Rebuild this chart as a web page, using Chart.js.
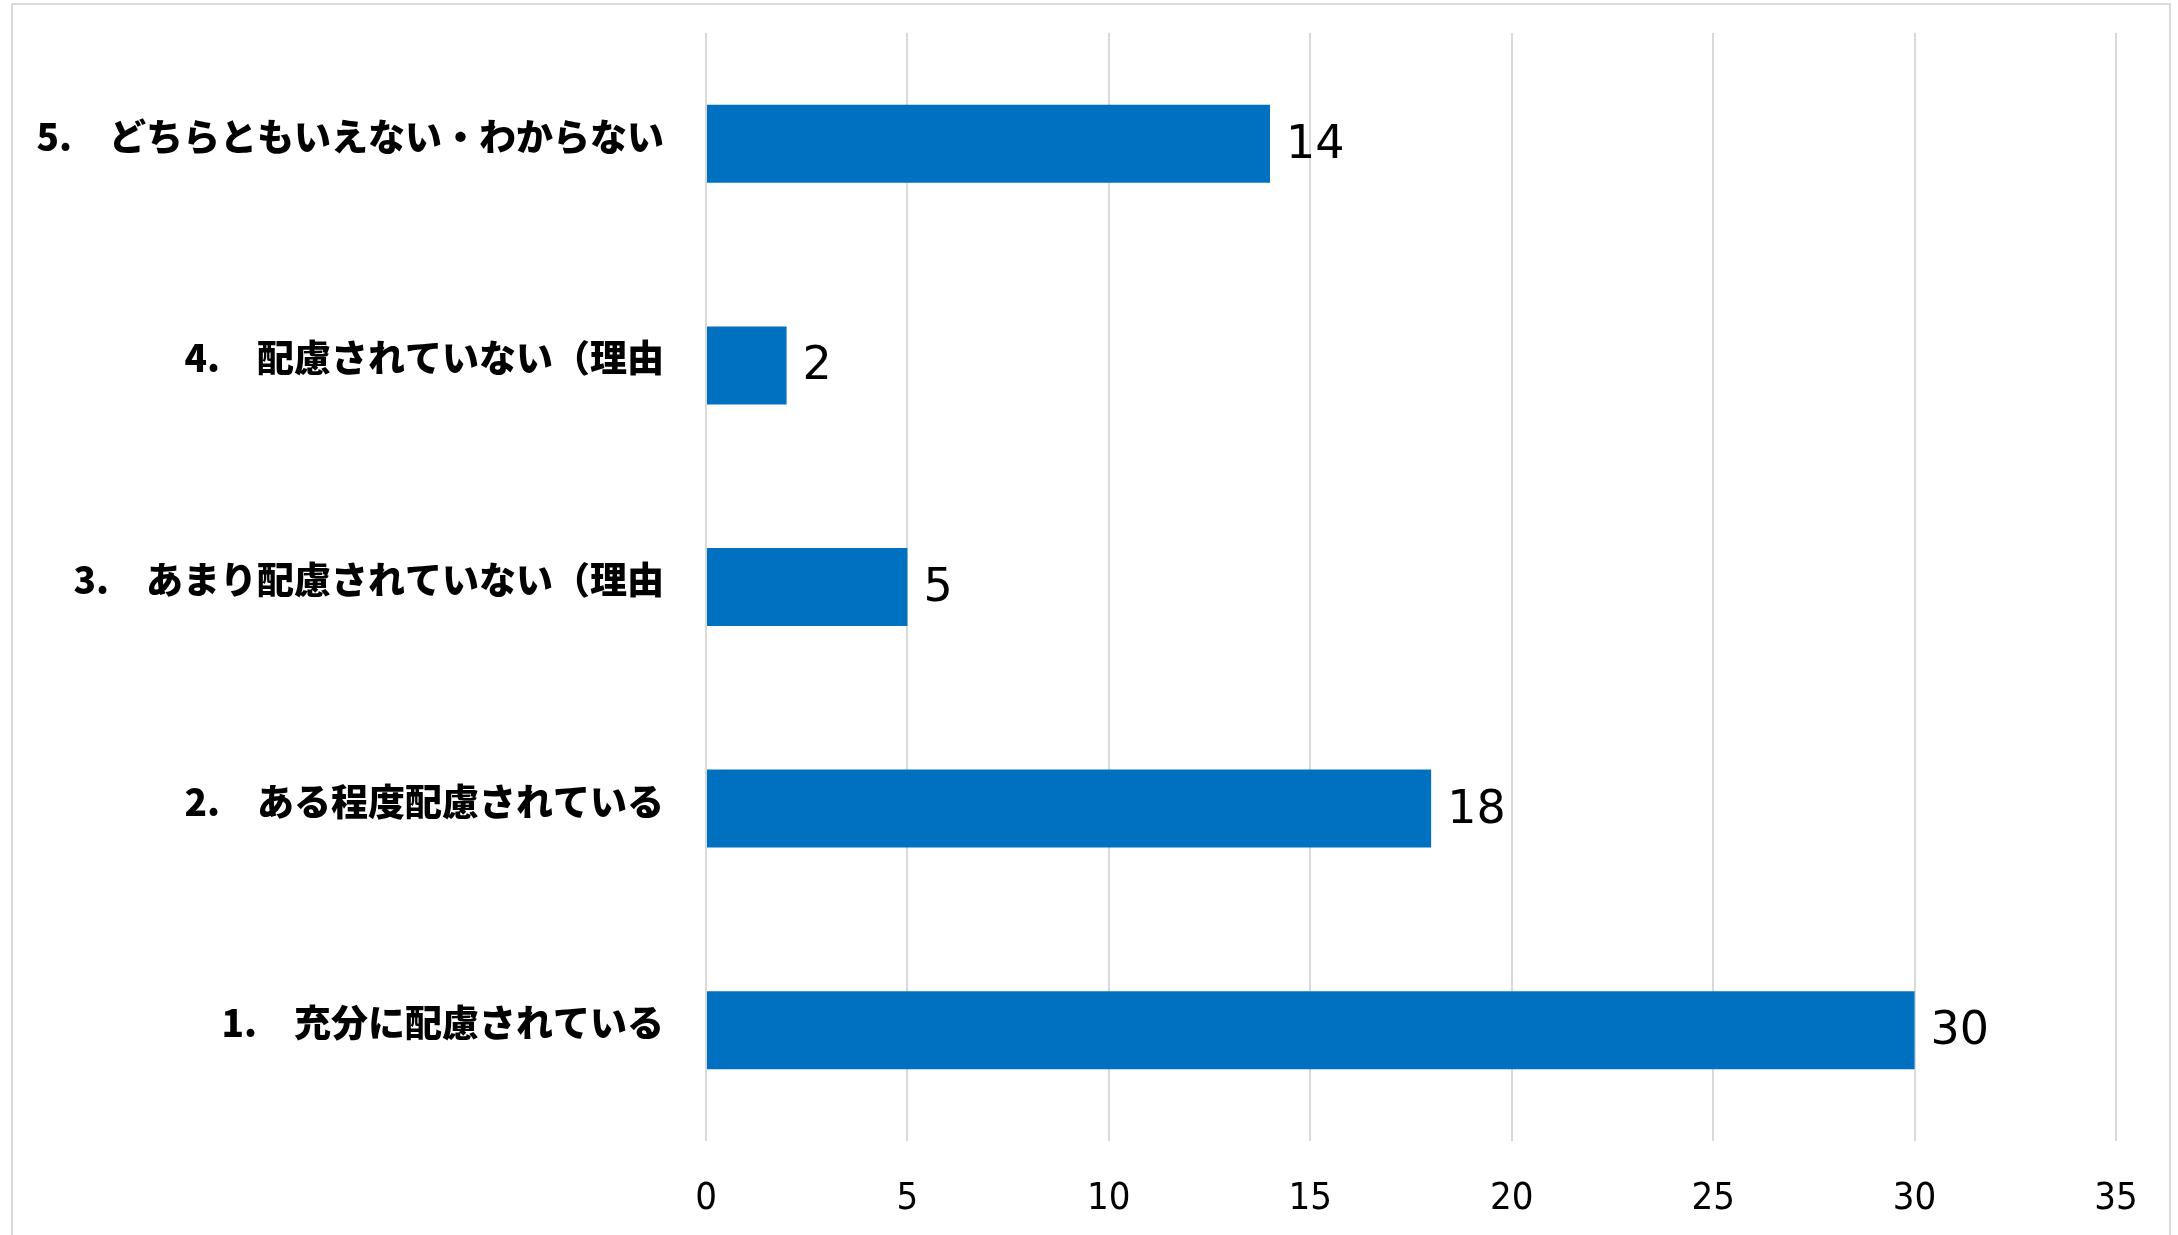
<!DOCTYPE html>
<html lang="ja">
<head>
<meta charset="utf-8">
<script src="https://cdn.jsdelivr.net/npm/chart.js@4"></script>
<style>
  body { margin: 0; background: #fff; }
  #wrap { position: relative; width: 2178px; height: 1235px; }
  #waku { position: absolute; left: 11px; top: 3px; width: 2156px; height: 1240px;
          border: 2px solid #d9d9d9; pointer-events: none; }
</style>
</head>
<body>
<div id="wrap">
  <canvas id="grafico" width="2178" height="1235"></canvas>
  <div id="waku"></div>
</div>
<script>
// === Dados ===
const categorias = [
  "1.　充分に配慮されている",
  "2.　ある程度配慮されている",
  "3.　あまり配慮されていない（理由",
  "4.　配慮されていない（理由",
  "5.　どちらともいえない・わからない"
];
const valores = [30, 18, 5, 2, 14];
const ticksX = [0, 5, 10, 15, 20, 25, 30, 35];

// rótulos de valor no fim das barras
const rotulos = {
  id: "rotulos",
  afterDatasetsDraw(chart) {
    const ctx = chart.ctx;
    const meta = chart.getDatasetMeta(0);
    ctx.save();
    ctx.font = "46px 'DejaVu Sans'";
    ctx.fillStyle = "#000";
    ctx.textAlign = "left";
    ctx.textBaseline = "middle";
    meta.data.forEach((bar, i) => {
      ctx.fillText(String(valores[i]), bar.x + 16, bar.y + 2);
    });
    ctx.restore();
  }
};

new Chart(document.getElementById("grafico"), {
  type: "bar",
  data: {
    labels: categorias,
    datasets: [{
      data: valores,
      backgroundColor: "#0070C0",
      borderWidth: 0,
      categoryPercentage: 0.7,
      barPercentage: 0.503
    }]
  },
  options: {
    indexAxis: "y",
    responsive: false,
    animation: false,
    devicePixelRatio: 1,
    layout: { padding: { top: 33, right: 62, left: 0, bottom: 0 } },
    plugins: { legend: { display: false }, tooltip: { enabled: false } },
    scales: {
      x: {
        min: 0,
        max: 35,
        afterBuildTicks: s => { s.ticks = ticksX.map(v => ({ value: v })); },
        afterFit: s => { s.height = 94; },
        grid: { color: "#d9d9d9", lineWidth: 2, drawTicks: false },
        border: { display: false },
        ticks: {
          padding: 35,
          color: "#000",
          font: { family: "'DejaVu Sans Condensed', 'DejaVu Sans'", size: 38 }
        }
      },
      y: {
        reverse: true,
        grid: { display: false, drawTicks: false },
        border: { display: false },
        afterFit: s => { s.width = 706; s.paddingTop = 0; s.paddingBottom = 0; },
        ticks: {
          padding: 42,
          labelOffset: -7,
          color: "#000",
          font: { family: "'Noto Sans CJK JP'", size: 37, weight: "900" }
        }
      }
    }
  },
  plugins: [rotulos]
});
</script>
</body>
</html>
